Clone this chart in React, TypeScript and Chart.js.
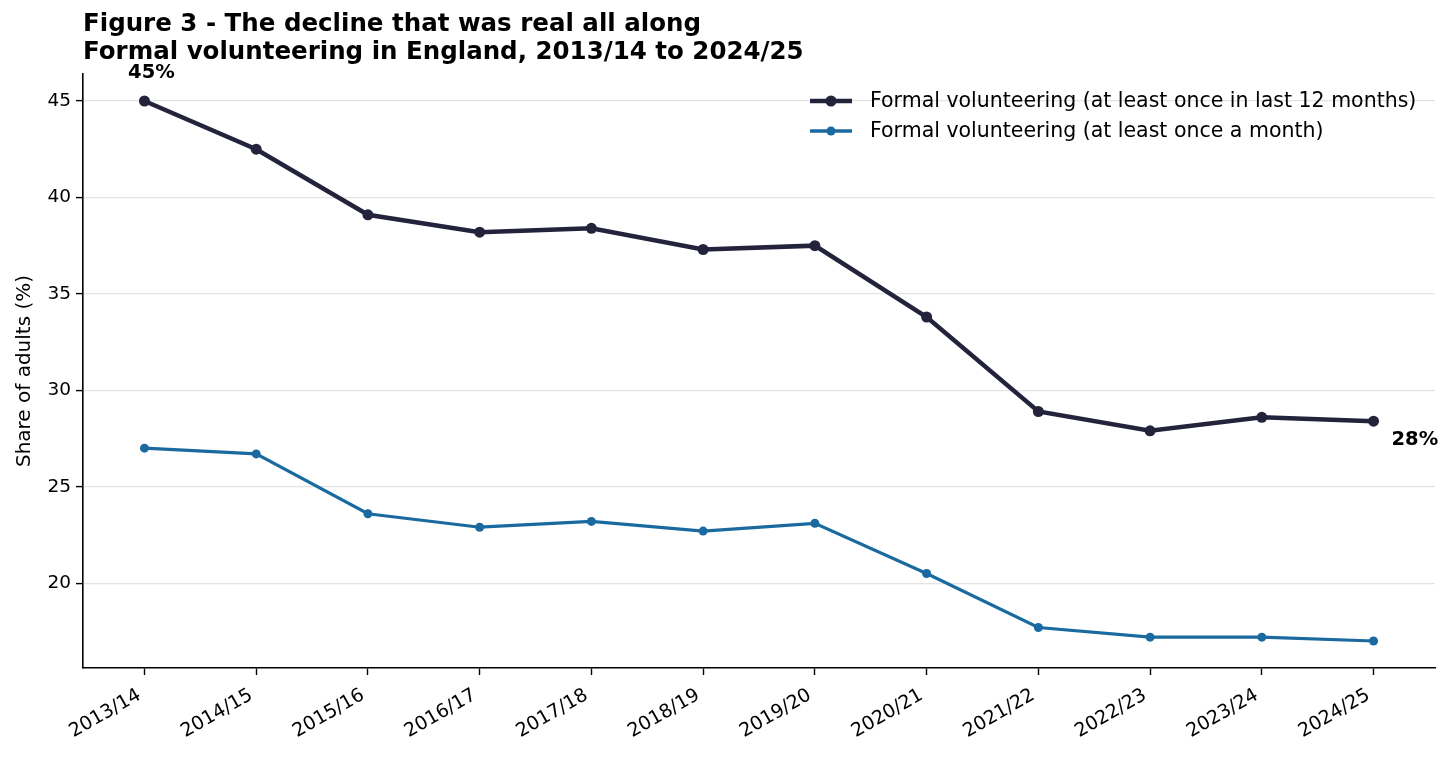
import React, { useEffect, useRef } from "react";
import { Chart, registerables } from "chart.js";

Chart.register(...registerables);

const years = [
  "2013/14",
  "2014/15",
  "2015/16",
  "2016/17",
  "2017/18",
  "2018/19",
  "2019/20",
  "2020/21",
  "2021/22",
  "2022/23",
  "2023/24",
  "2024/25",
];
const lastYear = [45.0, 42.5, 39.1, 38.2, 38.4, 37.3, 37.5, 33.8, 28.9, 27.9, 28.6, 28.4];
const monthly = [27.0, 26.7, 23.6, 22.9, 23.2, 22.7, 23.1, 20.5, 17.7, 17.2, 17.2, 17.0];
const yTicks = [20, 25, 30, 35, 40, 45];
const seriesLabels = [
  "Formal volunteering (at least once in last 12 months)",
  "Formal volunteering (at least once a month)",
];
const titleLines = [
  "Figure 3 - The decline that was real all along",
  "Formal volunteering in England, 2013/14 to 2024/25",
];

const DARK = "#23233b";
const BLUE = "#1a6aa0";
const FONT = "'DejaVu Sans', sans-serif";

// title, end labels and legend drawn straight on the canvas
const extrasPlugin = {
  id: "extras",
  afterDraw(chart: any) {
    const { ctx, chartArea, scales } = chart;
    ctx.save();
    ctx.fillStyle = "#000";
    ctx.font = `bold 24.5px ${FONT}`;
    ctx.textAlign = "left";
    ctx.textBaseline = "middle";
    ctx.fillText(titleLines[0], chartArea.left, 25);
    ctx.fillText(titleLines[1], chartArea.left, 53);

    // first / last value labels
    const first = lastYear[0];
    const last = lastYear[lastYear.length - 1];
    ctx.font = `bold 19.5px ${FONT}`;
    ctx.textAlign = "center";
    ctx.fillText(
      `${Math.round(first)}%`,
      scales.x.getPixelForValue(0) + 7,
      scales.y.getPixelForValue(first) - 28
    );
    ctx.textAlign = "left";
    ctx.fillText(
      `${Math.round(last)}%`,
      scales.x.getPixelForValue(lastYear.length - 1) + 18,
      scales.y.getPixelForValue(last) + 19
    );

    // legend, upper right
    const legendItems = [
      { color: DARK, width: 4.5, r: 5.5 },
      { color: BLUE, width: 3.5, r: 4.5 },
    ];
    ctx.font = `20.5px ${FONT}`;
    legendItems.forEach((it, i) => {
      const y = 101 + i * 30;
      ctx.strokeStyle = it.color;
      ctx.lineWidth = it.width;
      ctx.beginPath();
      ctx.moveTo(810, y);
      ctx.lineTo(852, y);
      ctx.stroke();
      ctx.fillStyle = it.color;
      ctx.beginPath();
      ctx.arc(831, y, it.r, 0, Math.PI * 2);
      ctx.fill();
      ctx.fillStyle = "#000";
      ctx.fillText(seriesLabels[i], 870, y + 1);
    });
    ctx.restore();
  },
};

const App = () => {
  const chartRef = useRef<HTMLCanvasElement>(null);

  useEffect(() => {
    if (!chartRef.current) return;
    const ctx = chartRef.current.getContext("2d");
    if (!ctx) return;

    const chart = new Chart(ctx, {
      type: "line",
      data: {
        datasets: [
          {
            label: seriesLabels[0],
            data: lastYear.map((v, i) => ({ x: i, y: v })),
            borderColor: DARK,
            backgroundColor: DARK,
            borderWidth: 4.5,
            pointRadius: 5.5,
            pointBorderWidth: 0,
            fill: false,
          },
          {
            label: seriesLabels[1],
            data: monthly.map((v, i) => ({ x: i, y: v })),
            borderColor: BLUE,
            backgroundColor: BLUE,
            borderWidth: 3.2,
            pointRadius: 4.5,
            pointBorderWidth: 0,
            fill: false,
          },
        ],
      },
      options: {
        responsive: true,
        maintainAspectRatio: false,
        animation: false,
        layout: { padding: { top: 74, right: 21, left: 0, bottom: 0 } },
        plugins: {
          legend: { display: false },
          title: { display: false },
          tooltip: { enabled: false },
        },
        scales: {
          x: {
            type: "linear",
            min: -0.55,
            max: years.length - 1 + 0.55,
            afterBuildTicks: (scale: any) => {
              scale.ticks = years.map((_, i) => ({ value: i }));
            },
            afterFit: (scale: any) => {
              scale.height = 89;
            },
            ticks: {
              autoSkip: false,
              maxRotation: 30,
              minRotation: 30,
              color: "#000",
              font: { family: FONT, size: 19 },
              padding: 9,
              labelOffset: -5,
              callback: (v: any) => years[v] ?? "",
            },
            grid: {
              drawOnChartArea: false,
              tickLength: 7,
              tickColor: "#000",
              tickWidth: 1.4,
            },
            border: { display: true, color: "#000", width: 1.6 },
          },
          y: {
            min: 15.6,
            max: 46.4,
            afterBuildTicks: (scale: any) => {
              scale.ticks = yTicks.map((v) => ({ value: v }));
            },
            afterFit: (scale: any) => {
              scale.width = 83;
            },
            ticks: {
              color: "#000",
              font: { family: FONT, size: 18.5 },
              padding: 5,
            },
            grid: {
              color: "#e3e3e3",
              lineWidth: 1.2,
              tickLength: 7,
              tickColor: "#000",
              tickWidth: 1.4,
            },
            border: { display: true, color: "#000", width: 1.6 },
            title: {
              display: true,
              text: "Share of adults (%)",
              color: "#000",
              font: { family: FONT, size: 20 },
              padding: { top: 13, bottom: 0 },
            },
          },
        },
      },
      plugins: [extrasPlugin],
    });

    return () => {
      chart.destroy();
    };
  }, []);

  return (
    <div
      style={{
        position: "absolute",
        left: 0,
        top: 0,
        width: 1456,
        height: 757,
        background: "#fff",
      }}
    >
      <canvas ref={chartRef}></canvas>
    </div>
  );
};

export default App;
